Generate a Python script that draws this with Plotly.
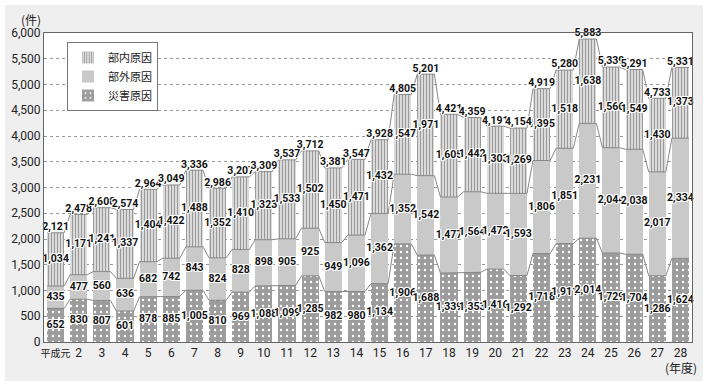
import plotly.graph_objects as go

years = ["平成元"] + [str(i) for i in range(2, 29)]
disaster = [652, 830, 807, 601, 878, 885, 1005, 810, 969, 1088, 1099, 1285, 982, 980,
            1134, 1906, 1688, 1339, 1353, 1416, 1292, 1718, 1911, 2014, 1729, 1704, 1286, 1624]
external = [435, 477, 560, 636, 682, 742, 843, 824, 828, 898, 905, 925, 949, 1096,
            1362, 1352, 1542, 1477, 1564, 1472, 1593, 1806, 1851, 2231, 2044, 2038, 2017, 2334]
internal = [1034, 1171, 1241, 1337, 1404, 1422, 1488, 1352, 1410, 1323, 1533, 1502, 1450, 1471,
            1432, 1547, 1971, 1605, 1442, 1303, 1269, 1395, 1518, 1638, 1566, 1549, 1430, 1373]
totals = [2121, 2478, 2608, 2574, 2964, 3049, 3336, 2986, 3207, 3309, 3537, 3712, 3381, 3547,
          3928, 4805, 5201, 4421, 4359, 4191, 4154, 4919, 5280, 5883, 5339, 5291, 4733, 5331]
yticks = list(range(0, 6001, 500))

FONT = "Roboto, Noto Sans CJK JP"
JFONT = "Noto Sans CJK JP"
BW = 0.74
xs = list(range(len(years)))
c1 = disaster
c2 = [a + b for a, b in zip(disaster, external)]

fig = go.Figure()

fig.add_bar(x=xs, y=disaster, name="災害原因", width=BW,
            marker=dict(color="#ffffff", line=dict(width=0),
                        pattern=dict(shape=".", bgcolor="#9c9c9c", fgcolor="#ffffff",
                                     size=6, solidity=0.12, fillmode="replace")))
fig.add_bar(x=xs, y=external, name="部外原因", width=BW,
            marker=dict(color="#c9c9c9", line=dict(width=0)))
fig.add_bar(x=xs, y=internal, name="部内原因", width=BW,
            marker=dict(color="#9a9a9a", line=dict(width=0),
                        pattern=dict(shape="|", bgcolor="#e8e8e8", fgcolor="#9a9a9a",
                                     size=3, solidity=0.45, fillmode="replace")))

# connector lines between stacked segments
for cum in (c1, c2, totals):
    lx, ly = [], []
    for i, v in zip(xs, cum):
        lx += [i - BW / 2, i + BW / 2]
        ly += [v, v]
    fig.add_scatter(x=lx, y=ly, mode="lines", line=dict(color="#888888", width=1),
                    showlegend=False, hoverinfo="skip")

halo = ("1px 1px 0 #fff, -1px -1px 0 #fff, 1px -1px 0 #fff, -1px 1px 0 #fff, "
        "0 1px 0 #fff, 0 -1px 0 #fff, 1px 0 0 #fff, -1px 0 0 #fff")
tf = dict(family=FONT, size=10.5, color="#111111", weight="bold", shadow=halo)

def fmt(v):
    return f"{v:,}"

fig.add_scatter(x=xs, y=[v / 2 for v in disaster], mode="text",
                text=[fmt(v) for v in disaster], textfont=tf,
                showlegend=False, hoverinfo="skip", cliponaxis=False)
fig.add_scatter(x=xs, y=[a + b / 2 for a, b in zip(c1, external)], mode="text",
                text=[fmt(v) for v in external], textfont=tf,
                showlegend=False, hoverinfo="skip", cliponaxis=False)
fig.add_scatter(x=xs, y=[a + b / 2 for a, b in zip(c2, internal)], mode="text",
                text=[fmt(v) for v in internal], textfont=tf,
                showlegend=False, hoverinfo="skip", cliponaxis=False)
fig.add_scatter(x=xs, y=totals, mode="text", textposition="top center",
                text=[fmt(v) for v in totals], textfont=tf,
                showlegend=False, hoverinfo="skip", cliponaxis=False)

# plot area geometry: x 44..692, y 33..342
L, R, T, B = 44, 16, 33, 43
W, H = 708, 385
pw, ph = W - L - R, H - T - B
def px(x):
    return (x - L) / pw
def py(y):
    return (H - B - y) / ph

fig.add_shape(type="rect", xref="paper", yref="paper", layer="below",
              x0=px(5), x1=px(703), y0=py(381), y1=py(5),
              fillcolor="#efefef", line=dict(width=0))
fig.add_shape(type="rect", xref="paper", yref="paper", layer="below",
              x0=0, x1=1, y0=0, y1=1, fillcolor="#ffffff", line=dict(width=0))

fig.add_annotation(text="(件)", xref="paper", yref="paper", x=px(31), y=py(20),
                   xanchor="center", yanchor="middle",
                   showarrow=False, font=dict(family=JFONT, size=12, color="#222"))
fig.add_annotation(text="(年度)", xref="paper", yref="paper", x=px(681), y=py(367),
                   xanchor="center", yanchor="middle",
                   showarrow=False, font=dict(family=JFONT, size=12, color="#222"))

ticktext = ["<span style='font-size:10px'>%s</span>" % years[0]] + years[1:]

fig.update_layout(
    width=W, height=H, barmode="stack",
    margin=dict(l=L, r=R, t=T, b=B, autoexpand=False),
    paper_bgcolor="#ffffff", plot_bgcolor="rgba(0,0,0,0)",
    font=dict(family=FONT, size=12, color="#222"),
    legend=dict(x=px(67), y=py(42), xanchor="left", yanchor="top",
                traceorder="reversed", bgcolor="#ffffff", bordercolor="#777",
                borderwidth=1, font=dict(family=JFONT, size=11, color="#222"),
                itemwidth=30, tracegroupgap=0, itemclick=False),
    showlegend=True,
)
fig.update_xaxes(range=[-0.5, len(years) - 0.5], tickmode="array", tickvals=xs,
                 ticktext=ticktext, showgrid=False, showline=True, linecolor="#666",
                 linewidth=1, mirror=True, ticks="", tickangle=0, automargin=False,
                 tickfont=dict(family=FONT, size=12, color="#222"))
fig.update_yaxes(range=[0, 6000], tickmode="array", tickvals=yticks,
                 ticktext=[fmt(v) for v in yticks], showgrid=True, gridcolor="#999",
                 griddash="dot", gridwidth=1, showline=True, linecolor="#666",
                 linewidth=1, mirror=True, ticks="", zeroline=False, automargin=False,
                 tickfont=dict(family=FONT, size=12, color="#222"))

fig.write_html("out.html", config={"displayModeBar": False},
               post_script="document.body.style.margin='0';")
